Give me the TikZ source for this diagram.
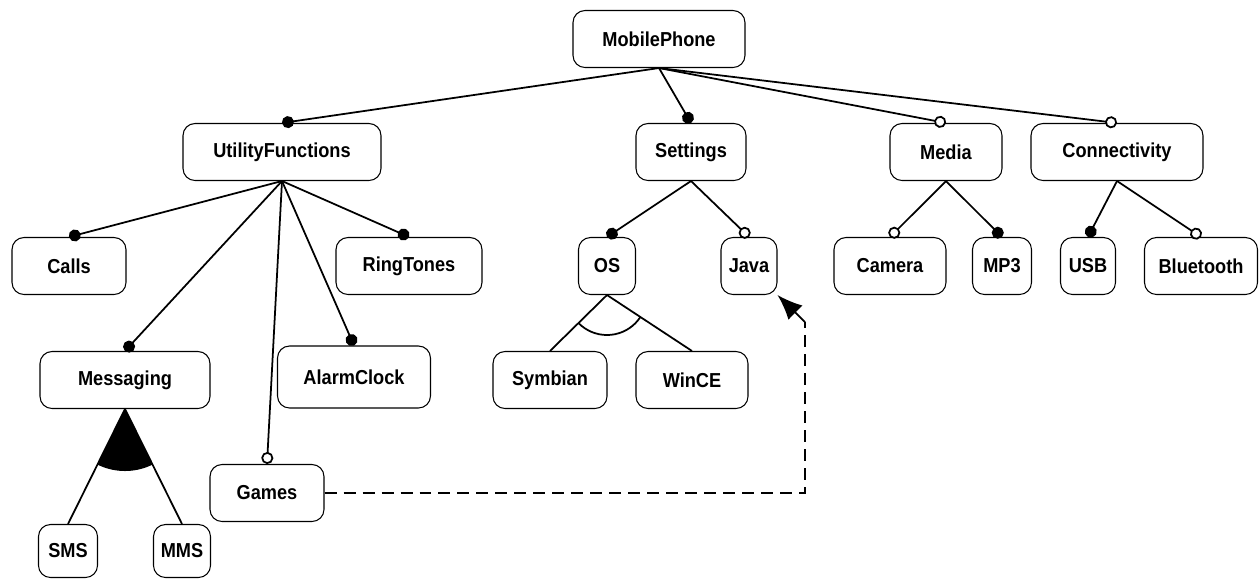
\documentclass[tikz,border=0pt]{standalone}
\usepackage{fontspec}
\setmainfont{Liberation Sans}[FakeStretch=0.9]
\usetikzlibrary{arrows.meta}
\tikzset{feat/.style={draw, line width=0.6pt, rounded corners=0.24cm, minimum height=1.14cm, minimum width=#1, inner sep=2pt, font=\fontsize{11.5}{13}\selectfont\bfseries},
%default width of a feature box
feat/.default={2.2cm},
mand/.style={line width=1pt, -{Circle[length=0.24cm]}},
opt/.style={line width=1pt, -{Circle[open,length=0.24cm,fill=white]}}}

\begin{document}
\begin{tikzpicture}[x=0.02cm,y=-0.02cm]
\useasboundingbox (0,0) rectangle (1259,579);

% root and first level
\node[feat=3.44cm] (MobilePhone) at (659,39) {MobilePhone};
\node[feat=3.96cm] (UtilityFunctions) at (282,152) {UtilityFunctions};
\node[feat=2.2cm] (Settings) at (691,152) {Settings};
\node[feat=2.24cm] (Media) at (946,152) {Media};
\node[feat=3.44cm] (Connectivity) at (1117,152) {Connectivity};

% second level
\node[feat=2.28cm] (Calls) at (69,266) {Calls};
\node[feat=2.92cm] (RingTones) at (409,266) {RingTones};
\node[feat=1.14cm] (OS) at (607,266) {OS};
\node[feat=1.12cm] (Java) at (749,266) {Java};
\node[feat=2.24cm] (Camera) at (890,266) {Camera};
\node[feat=1.18cm] (MP3) at (1002,266) {MP3};
\node[feat=1.1cm] (USB) at (1088,266) {USB};
\node[feat=2.26cm] (Bluetooth) at (1201,266) {Bluetooth};

\node[feat=3.4cm] (Messaging) at (125,380) {Messaging};
\node[feat=3.06cm, minimum height=1.24cm] (AlarmClock) at (354,377) {AlarmClock};
\node[feat=2.28cm] (Symbian) at (550,380) {Symbian};
\node[feat=2.24cm] (WinCE) at (692,380) {WinCE};
\node[feat=2.28cm] (Games) at (267,493) {Games};
\node[feat=1.18cm, minimum height=1.06cm] (SMS) at (68,551) {SMS};
\node[feat=1.14cm, minimum height=1.06cm] (MMS) at (182,551) {MMS};

% MobilePhone
\draw[mand] (MobilePhone.south) -- (UtilityFunctions.north);
\draw[mand] (MobilePhone.south) -- (Settings.north);
\draw[opt] (MobilePhone.south) -- (Media.north);
\draw[opt] (MobilePhone.south) -- (Connectivity.north);

% UtilityFunctions
\draw[mand] (UtilityFunctions.south) -- (Calls.north);
\draw[mand] (UtilityFunctions.south) -- (RingTones.north);
\draw[mand] (UtilityFunctions.south) -- (Messaging.north);
\draw[mand] (UtilityFunctions.south) -- (AlarmClock.north);
\draw[opt] (UtilityFunctions.south) -- (Games.north);

% Settings, Media, Connectivity
\draw[mand] (Settings.south) -- (OS.north);
\draw[opt] (Settings.south) -- (Java.north);
\draw[opt] (Media.south) -- (Camera.north);
\draw[mand] (Media.south) -- (MP3.north);
\draw[mand] (Connectivity.south) -- (USB.north);
\draw[opt] (Connectivity.south) -- (Bluetooth.north);

% OS: alternative
\draw[line width=1pt] (OS.south) -- (Symbian.north);
\draw[line width=1pt] (OS.south) -- (WinCE.north);
\begin{scope}
\clip (OS.south) -- (Symbian.north) -- (WinCE.north) -- cycle;
\draw[line width=1pt] (OS.south) circle (0.8cm);
\end{scope}

% Messaging: or
\draw[line width=1pt] (Messaging.south) -- (SMS.north);
\draw[line width=1pt] (Messaging.south) -- (MMS.north);
\begin{scope}
\clip (Messaging.south) -- (SMS.north) -- (MMS.north) -- cycle;
\fill (Messaging.south) circle (1.24cm);
\end{scope}

% Games requires Java
\coordinate (turn) at (805,322);
\draw[line width=1pt, dash pattern=on 0.24cm off 0.14cm] (Games.east) -| (turn);
\draw[line width=1pt, -{Latex[length=0.5cm,width=0.4cm]}] (turn) -- (Java.south east);

\end{tikzpicture}
\end{document}
